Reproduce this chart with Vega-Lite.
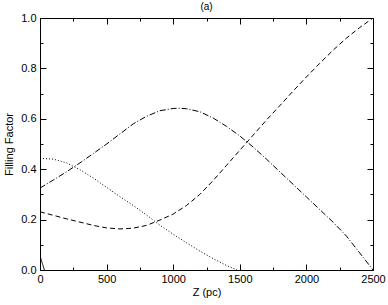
{
  "$schema": "https://vega.github.io/schema/vega-lite/v6.json",
  "width": 333,
  "height": 252,
  "autosize": "none",
  "padding": {"left": 40, "top": 18, "right": 15, "bottom": 35},
  "background": "white",
  "config": {
    "font": "Liberation Sans",
    "view": {"stroke": "black", "strokeWidth": 1},
    "axis": {
      "domain": false,
      "grid": false,
      "tickColor": "black",
      "tickWidth": 1,
      "labelColor": "black",
      "labelFontSize": 11,
      "titleFontSize": 11,
      "titleFontWeight": "normal",
      "titleColor": "black"
    }
  },
  "title": {"text": "(a)", "fontSize": 10, "fontWeight": "normal", "offset": 0, "color": "black"},
  "data": {
    "values": [
      {"series": "solid", "z": 0, "f": 0.056},
      {"series": "solid", "z": 33, "f": 0},
      {"series": "dotted", "z": 0, "f": 0.443},
      {"series": "dotted", "z": 100, "f": 0.44},
      {"series": "dotted", "z": 200, "f": 0.425},
      {"series": "dotted", "z": 300, "f": 0.398},
      {"series": "dotted", "z": 400, "f": 0.365},
      {"series": "dotted", "z": 500, "f": 0.328},
      {"series": "dotted", "z": 600, "f": 0.291},
      {"series": "dotted", "z": 700, "f": 0.256},
      {"series": "dotted", "z": 800, "f": 0.218},
      {"series": "dotted", "z": 900, "f": 0.178},
      {"series": "dotted", "z": 1000, "f": 0.142},
      {"series": "dotted", "z": 1100, "f": 0.108},
      {"series": "dotted", "z": 1200, "f": 0.075},
      {"series": "dotted", "z": 1300, "f": 0.045},
      {"series": "dotted", "z": 1400, "f": 0.018},
      {"series": "dotted", "z": 1480, "f": 0},
      {"series": "dashed", "z": 0, "f": 0.231},
      {"series": "dashed", "z": 100, "f": 0.217},
      {"series": "dashed", "z": 200, "f": 0.203},
      {"series": "dashed", "z": 300, "f": 0.19},
      {"series": "dashed", "z": 400, "f": 0.177},
      {"series": "dashed", "z": 500, "f": 0.167},
      {"series": "dashed", "z": 600, "f": 0.163},
      {"series": "dashed", "z": 700, "f": 0.166},
      {"series": "dashed", "z": 800, "f": 0.177},
      {"series": "dashed", "z": 900, "f": 0.198},
      {"series": "dashed", "z": 1000, "f": 0.222},
      {"series": "dashed", "z": 1100, "f": 0.256},
      {"series": "dashed", "z": 1200, "f": 0.3},
      {"series": "dashed", "z": 1300, "f": 0.355},
      {"series": "dashed", "z": 1400, "f": 0.415},
      {"series": "dashed", "z": 1500, "f": 0.475},
      {"series": "dashed", "z": 1600, "f": 0.535},
      {"series": "dashed", "z": 1700, "f": 0.595},
      {"series": "dashed", "z": 1800, "f": 0.652},
      {"series": "dashed", "z": 1900, "f": 0.71},
      {"series": "dashed", "z": 2000, "f": 0.766},
      {"series": "dashed", "z": 2100, "f": 0.82},
      {"series": "dashed", "z": 2200, "f": 0.872},
      {"series": "dashed", "z": 2300, "f": 0.92},
      {"series": "dashed", "z": 2400, "f": 0.962},
      {"series": "dashed", "z": 2500, "f": 1.0},
      {"series": "dashdot", "z": 0, "f": 0.325},
      {"series": "dashdot", "z": 100, "f": 0.357},
      {"series": "dashdot", "z": 200, "f": 0.39},
      {"series": "dashdot", "z": 300, "f": 0.425},
      {"series": "dashdot", "z": 400, "f": 0.462},
      {"series": "dashdot", "z": 500, "f": 0.5},
      {"series": "dashdot", "z": 600, "f": 0.54},
      {"series": "dashdot", "z": 700, "f": 0.58},
      {"series": "dashdot", "z": 800, "f": 0.61},
      {"series": "dashdot", "z": 900, "f": 0.632},
      {"series": "dashdot", "z": 1000, "f": 0.641},
      {"series": "dashdot", "z": 1050, "f": 0.642},
      {"series": "dashdot", "z": 1100, "f": 0.64},
      {"series": "dashdot", "z": 1200, "f": 0.628},
      {"series": "dashdot", "z": 1300, "f": 0.603},
      {"series": "dashdot", "z": 1400, "f": 0.57},
      {"series": "dashdot", "z": 1500, "f": 0.532},
      {"series": "dashdot", "z": 1600, "f": 0.488},
      {"series": "dashdot", "z": 1700, "f": 0.44},
      {"series": "dashdot", "z": 1800, "f": 0.39},
      {"series": "dashdot", "z": 1900, "f": 0.34},
      {"series": "dashdot", "z": 2000, "f": 0.29},
      {"series": "dashdot", "z": 2100, "f": 0.24},
      {"series": "dashdot", "z": 2200, "f": 0.19},
      {"series": "dashdot", "z": 2300, "f": 0.135},
      {"series": "dashdot", "z": 2400, "f": 0.068},
      {"series": "dashdot", "z": 2500, "f": 0}
    ]
  },
  "layer": [
    {
      "mark": {"type": "line", "color": "black", "strokeWidth": 1, "clip": true},
      "encoding": {
        "x": {
          "field": "z", "type": "quantitative",
          "scale": {"domain": [0, 2500], "nice": false, "zero": false},
          "axis": {
            "orient": "bottom",
            "title": "Z (pc)",
            "values": [0, 250, 500, 750, 1000, 1250, 1500, 1750, 2000, 2250, 2500],
            "format": "d",
            "labelExpr": "datum.value % 500 === 0 ? datum.label : ''",
            "tickSize": {"condition": {"test": "datum.value % 500 === 0", "value": -6}, "value": -3},
            "labelPadding": 9,
            "labelFlush": false,
            "titlePadding": 2
          }
        },
        "y": {
          "field": "f", "type": "quantitative",
          "scale": {"domain": [0, 1], "nice": false},
          "axis": {
            "orient": "left",
            "title": "Filling Factor",
            "values": [0, 0.1, 0.2, 0.3, 0.4, 0.5, 0.6, 0.7, 0.8, 0.9, 1.0],
            "format": ".1f",
            "labelExpr": "round(datum.value * 10) % 2 === 0 ? datum.label : ''",
            "tickSize": {"condition": {"test": "round(datum.value * 10) % 2 === 0", "value": -6}, "value": -3},
            "labelPadding": 10,
            "labelFlush": false,
            "titlePadding": 6
          }
        },
        "strokeDash": {
          "field": "series", "type": "nominal",
          "scale": {"domain": ["solid", "dotted", "dashed", "dashdot"], "range": [[1, 0], [1, 2], [5, 3], [6, 2, 1, 2]]},
          "legend": null
        }
      }
    },
    {
      "mark": {"type": "line", "opacity": 0},
      "encoding": {
        "x": {
          "field": "z", "type": "quantitative",
          "scale": {"domain": [0, 2500], "nice": false, "zero": false},
          "axis": {
            "orient": "top",
            "title": null,
            "values": [0, 250, 500, 750, 1000, 1250, 1500, 1750, 2000, 2250, 2500],
            "labels": false,
            "tickSize": {"condition": {"test": "datum.value % 500 === 0", "value": -6}, "value": -3}
          }
        },
        "y": {
          "field": "f", "type": "quantitative",
          "scale": {"domain": [0, 1], "nice": false},
          "axis": {
            "orient": "right",
            "title": null,
            "values": [0, 0.1, 0.2, 0.3, 0.4, 0.5, 0.6, 0.7, 0.8, 0.9, 1.0],
            "labels": false,
            "tickSize": {"condition": {"test": "round(datum.value * 10) % 2 === 0", "value": -6}, "value": -3}
          }
        },
        "detail": {"field": "series", "type": "nominal"}
      }
    }
  ],
  "resolve": {"axis": {"x": "independent", "y": "independent"}}
}
